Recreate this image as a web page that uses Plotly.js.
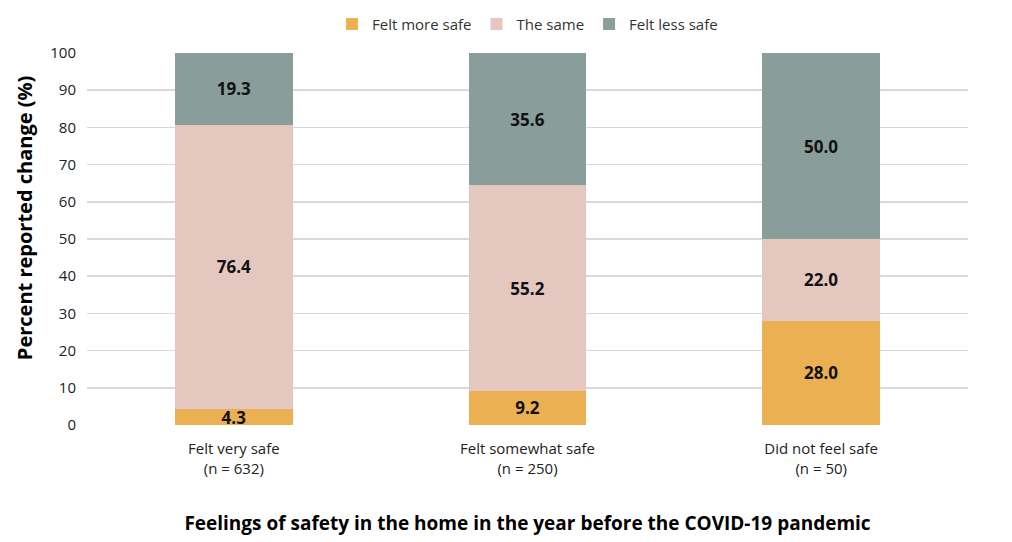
<!DOCTYPE html>
<html>
<head>
<meta charset="utf-8">
<script src="https://cdn.plot.ly/plotly-3.0.1.min.js"></script>
<style>html,body{margin:0;padding:0;background:#fff;}#chart{width:1012px;height:542px;}</style>
</head>
<body>
<div id="chart"></div>
<script>
const categories = ["Felt very safe<br>(n = 632)", "Felt somewhat safe<br>(n = 250)", "Did not feel safe<br>(n = 50)"];
const seriesNames = ["Felt more safe", "The same", "Felt less safe"];
const moreSafe = [4.3, 9.2, 28.0];
const theSame = [76.4, 55.2, 22.0];
const lessSafe = [19.3, 35.6, 50.0];
const colors = ["#EBB052", "#E4C8BF", "#899D9A"];
const yTicks = [0, 10, 20, 30, 40, 50, 60, 70, 80, 90, 100];

const seriesValues = [moreSafe, theSame, lessSafe];
const traces = seriesValues.map((vals, i) => ({
  type: "bar",
  name: seriesNames[i],
  x: categories,
  y: vals,
  marker: {color: colors[i], line: {width: 0}},
  text: vals.map(v => v.toFixed(1)),
  textposition: "inside",
  insidetextanchor: "middle",
  textangle: 0,
  textfont: {family: "Open Sans, sans-serif", size: 17, color: "#111", weight: "bold"},
  constraintext: "none",
  hoverinfo: "skip"
}));

const layout = {
  width: 1012, height: 542,
  barmode: "stack",
  bargap: 0.6,
  margin: {l: 87, r: 44, t: 53, b: 117},
  paper_bgcolor: "#fff",
  plot_bgcolor: "#fff",
  font: {family: "Open Sans, sans-serif", size: 15, color: "#222"},
  showlegend: true,
  legend: {orientation: "h", x: 0.5, xanchor: "center", y: 0.925, yanchor: "bottom", yref: "container",
           font: {size: 15, color: "#333"}, traceorder: "normal", itemwidth: 30},
  xaxis: {
    showgrid: false, zeroline: false, showline: false,
    ticks: "", tickfont: {size: 15, color: "#222"}, ticklabelstandoff: 13,
    title: {text: "Feelings of safety in the home in the year before the COVID-19 pandemic",
            font: {size: 19, color: "#000", weight: "bold"}, standoff: 40}
  },
  yaxis: {
    range: [0, 100], tickvals: yTicks, ticktext: yTicks.map(String),
    showgrid: true, gridcolor: "#d9d9d9", gridwidth: 1.5, zeroline: false, showline: false,
    ticks: "", tickfont: {size: 15, color: "#222"}, ticklabelstandoff: 10
  },
  annotations: [{
    text: "Percent reported change (%)", textangle: -90,
    xref: "paper", yref: "paper", x: 0, xshift: -63, y: 0.556,
    xanchor: "center", yanchor: "middle", showarrow: false,
    font: {family: "Open Sans, sans-serif", size: 20, color: "#000", weight: "bold"}
  }]
};
Plotly.newPlot("chart", traces, layout, {displayModeBar: false, staticPlot: true});
</script>
</body>
</html>
